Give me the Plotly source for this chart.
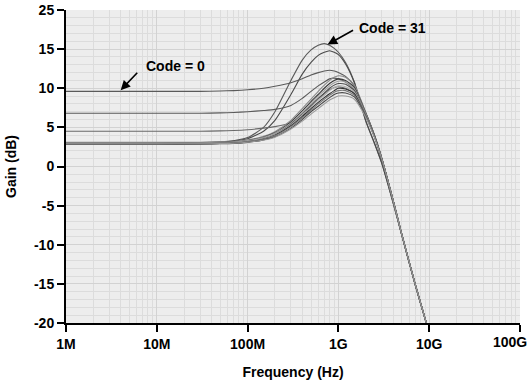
import plotly.graph_objects as go

freq = [1e6, 1e7, 3e7, 5e7, 7e7, 1e8, 1.5e8, 2e8, 3e8, 4e8, 5e8, 6e8, 7e8, 8e8, 9e8,
        1e9, 1.2e9, 1.5e9, 2e9, 2.5e9, 3e9, 4e9, 5e9, 7e9, 9.3e9]

code31 = [3.0, 3.0, 3.05, 3.15, 3.3, 3.7, 5.0, 7.0, 11.0, 13.6, 14.9, 15.5, 15.7, 15.5, 15.1,
          14.6, 13.3, 10.8, 5.8, 2.9, 0.4, -4.6, -8.8, -15.1, -20.0]
code30 = [3.0, 3.0, 3.05, 3.12, 3.25, 3.55, 4.5, 5.9, 9.2, 11.8, 13.3, 14.2, 14.6, 14.8, 14.6,
          14.3, 13.1, 10.7, 5.9, 3.0, 0.5, -4.6, -8.8, -15.1, -20.0]
code0 = [9.6, 9.6, 9.6, 9.65, 9.7, 9.8, 10.0, 10.25, 10.7, 11.2, 11.7, 12.0, 12.2, 12.3, 12.2,
         12.0, 11.5, 10.3, 6.9, 4.0, 1.1, -4.3, -8.7, -15.0, -20.0]
dc68 = [6.8, 6.8, 6.8, 6.85, 6.9, 7.0, 7.15, 7.3, 7.8, 8.7, 9.6, 10.3, 10.8, 11.2, 11.3,
        11.2, 10.8, 9.8, 6.8, 4.0, 1.1, -4.3, -8.7, -15.0, -20.0]
dc45 = [4.5, 4.5, 4.5, 4.55, 4.6, 4.7, 4.9, 5.1, 5.6, 6.6, 7.7, 8.6, 9.3, 9.8, 10.1,
        10.2, 10.0, 9.3, 6.7, 3.9, 1.1, -4.3, -8.7, -15.0, -20.0]
b1 = [3.1, 3.1, 3.1, 3.15, 3.2, 3.4, 3.85, 4.45, 5.9, 7.4, 8.6, 9.6, 10.4, 11.0, 11.4,
      11.6, 11.4, 10.4, 6.9, 3.9, 1.0, -4.3, -8.7, -15.0, -20.0]
b2 = [3.0, 3.0, 3.0, 3.05, 3.12, 3.3, 3.75, 4.3, 5.7, 7.1, 8.3, 9.2, 10.0, 10.6, 11.0,
      11.2, 11.0, 10.1, 6.8, 3.9, 1.0, -4.3, -8.7, -15.0, -20.0]
b3 = [2.95, 2.95, 2.95, 3.05, 3.1, 3.28, 3.7, 4.25, 5.55, 6.9, 8.05, 9.0, 9.7, 10.3, 10.7,
      10.9, 10.8, 9.9, 6.7, 3.9, 1.0, -4.3, -8.7, -15.0, -20.0]
b4 = [2.9, 2.9, 2.9, 2.95, 3.0, 3.18, 3.6, 4.1, 5.4, 6.7, 7.8, 8.7, 9.4, 10.0, 10.4,
      10.6, 10.5, 9.7, 6.6, 3.9, 1.0, -4.3, -8.7, -15.0, -20.0]
b5 = [3.0, 3.0, 3.0, 3.04, 3.1, 3.25, 3.62, 4.1, 5.3, 6.6, 7.6, 8.5, 9.1, 9.7, 10.1,
      10.3, 10.2, 9.5, 6.6, 3.8, 1.0, -4.3, -8.7, -15.0, -20.0]
b6 = [2.9, 2.9, 2.9, 2.95, 3.0, 3.15, 3.5, 4.0, 5.2, 6.4, 7.4, 8.2, 8.8, 9.3, 9.7,
      10.0, 9.9, 9.3, 6.5, 3.8, 1.0, -4.3, -8.7, -15.0, -20.0]
b7 = [3.0, 3.0, 3.0, 3.03, 3.07, 3.2, 3.5, 3.95, 5.1, 6.2, 7.2, 8.0, 8.6, 9.1, 9.5,
      9.7, 9.7, 9.1, 6.5, 3.8, 1.0, -4.3, -8.7, -15.0, -20.0]
b8 = [2.85, 2.85, 2.85, 2.9, 2.95, 3.08, 3.4, 3.8, 4.9, 6.0, 7.0, 7.7, 8.3, 8.8, 9.2,
      9.4, 9.4, 8.9, 6.4, 3.8, 1.0, -4.3, -8.7, -15.0, -20.0]
b9 = [2.9, 2.9, 2.9, 2.93, 2.97, 3.1, 3.38, 3.75, 4.8, 5.8, 6.7, 7.4, 8.0, 8.5, 8.8,
      9.0, 9.0, 8.6, 6.3, 3.7, 1.0, -4.3, -8.7, -15.0, -20.0]

curves = [code31, code30, code0, dc68, dc45, b1, b2, b3, b4, b5, b6, b7, b8, b9]
colors = ["#5a5a5a", "#4a4a4a", "#5a5a5a", "#5a5a5a", "#6a6a6a", "#8a8a8a", "#3a3a3a",
          "#a0a0a0", "#505050", "#b0b0b0", "#303030", "#7a7a7a", "#484848", "#9a9a9a"]

x_tickvals = [1e6, 1e7, 1e8, 1e9, 1e10, 1e11]
x_ticktext = ["1M", "10M", "100M", "1G", "10G", ""]
last_x_label = "100G"
y_tickvals = [-20, -15, -10, -5, 0, 5, 10, 15, 20]
y_ticktext = ["-20", "-15", "-10", "-5", "0", "5", "10", "15", "25"]
x_minor = [m * 10 ** e for e in range(6, 11) for m in range(2, 10)]

fig = go.Figure()
for c, col in zip(curves, colors):
    fig.add_trace(go.Scatter(x=freq, y=c, mode="lines",
                             line=dict(color=col, width=1.1, shape="spline", smoothing=0.6),
                             showlegend=False, hoverinfo="skip"))

font_b = dict(family="Liberation Sans, Arial, sans-serif", size=14, color="black", weight="bold")

fig.update_layout(
    width=530, height=383,
    margin=dict(l=66, r=10, t=10, b=60),
    paper_bgcolor="white",
    plot_bgcolor="#ededed",
    font=font_b,
    xaxis=dict(type="log", range=[6, 11.0005], tickvals=x_tickvals, ticktext=x_ticktext,
               automargin=False, ticklabeloverflow="allow",
               showgrid=True, gridcolor="#d2d2d2", gridwidth=1,
               minor=dict(tickvals=x_minor, showgrid=True, gridcolor="#dcdcdc", gridwidth=1, ticks=""),
               showline=True, linecolor="black", linewidth=2, ticks="outside", ticklen=7, tickwidth=2,
               tickcolor="black", tickfont=font_b, zeroline=False,
               title=dict(text="Frequency (Hz)", font=font_b, standoff=16)),
    yaxis=dict(range=[-20, 20], tickvals=y_tickvals, ticktext=y_ticktext,
               automargin=False, ticklabeloverflow="allow",
               showgrid=True, gridcolor="#d2d2d2", gridwidth=1,
               minor=dict(dtick=1, showgrid=True, gridcolor="#dcdcdc", gridwidth=1, ticks=""),
               showline=True, linecolor="black", linewidth=2, ticks="outside", ticklen=7, tickwidth=2,
               tickcolor="black", tickfont=font_b, zeroline=False,
               title=dict(text="Gain (dB)", font=font_b, standoff=14)),
)

# last x tick label, right-aligned so it stays inside the window
fig.add_annotation(x=1, xref="paper", y=0, yref="paper", xanchor="right", yanchor="top",
                   xshift=9, yshift=-9, text=last_x_label, showarrow=False, font=font_b)

# Arrows (log axis: annotation x in log10 units)
fig.add_annotation(x=6.602, y=9.75, xref="x", yref="y", ax=18, ay=-19, text="", showarrow=True,
                   arrowhead=2, arrowsize=1.2, arrowwidth=1.6, arrowcolor="black")
fig.add_annotation(x=8.881, y=15.6, xref="x", yref="y", ax=27, ay=-15, text="", showarrow=True,
                   arrowhead=2, arrowsize=1.2, arrowwidth=1.6, arrowcolor="black")
fig.add_annotation(x=7.209, y=12.8, xref="x", yref="y", text="Code = 0", showarrow=False, font=font_b)
fig.add_annotation(x=9.594, y=17.7, xref="x", yref="y", text="Code = 31", showarrow=False, font=font_b)

fig.write_html("out.html", config={"displayModeBar": False},
               post_script="document.body.style.margin='0';")
